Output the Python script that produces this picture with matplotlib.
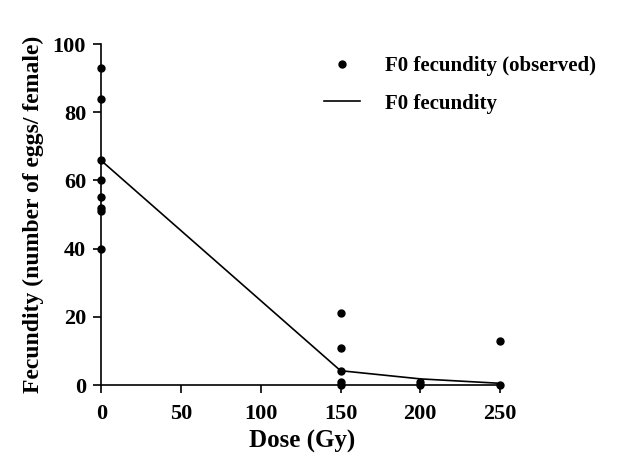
import matplotlib
matplotlib.use("Agg")
import matplotlib.pyplot as plt

# observed fecundity per female
obs_dose = [0, 0, 0, 0, 0, 0, 0, 0,
            150, 150, 150, 150, 150,
            200, 200,
            250, 250]
obs_eggs = [93, 84, 66, 60, 55, 52, 51, 40,
            21, 11, 4, 1, 0,
            1, 0,
            13, 0]

# mean fecundity line
line_dose = [0, 150, 200, 250]
line_eggs = [65.8, 4.2, 1.8, 0.5]

x_ticks = [0, 50, 100, 150, 200, 250]
y_ticks = [0, 20, 40, 60, 80, 100]

plt.rcParams['font.family'] = ['Liberation Serif', 'DejaVu Serif']
plt.rcParams['font.weight'] = 'bold'

fig = plt.figure(figsize=(6.33, 4.57), dpi=100)
ax = fig.add_axes([0.16, 0.1575, 0.635, 0.7462])

ax.plot(obs_dose, obs_eggs, 'o', color='black', markersize=5,
        label='F0 fecundity (observed)', clip_on=False, zorder=3)
ax.plot(line_dose, line_eggs, '-', color='black', linewidth=1.2,
        label='F0 fecundity', clip_on=False)

ax.set_xlim(0, 252)
ax.set_ylim(0, 100)
ax.set_xticks(x_ticks)
ax.set_yticks(y_ticks)

for side in ['top', 'right']:
    ax.spines[side].set_visible(False)
for side in ['left', 'bottom']:
    ax.spines[side].set_linewidth(1.2)
ax.spines['left'].set_bounds(0, 100)

ax.tick_params(direction='out', length=6, width=1.2, labelsize=16, pad=5)
ax.tick_params(axis='x', pad=8)
for lab in ax.get_xticklabels() + ax.get_yticklabels():
    lab.set_fontweight('bold')

ax.set_xlabel('Dose (Gy)', fontsize=18, fontweight='bold', labelpad=4)
ax.set_ylabel('Fecundity (number of eggs/ female)', fontsize=17,
              fontweight='bold', labelpad=6)

leg = ax.legend(loc='upper left', bbox_to_anchor=(0.508, 1.02), frameon=False,
                fontsize=15, handlelength=1.7, labelspacing=0.85,
                handletextpad=1.2)
for t in leg.get_texts():
    t.set_fontweight('bold')

fig.savefig('out.png', dpi=100)
